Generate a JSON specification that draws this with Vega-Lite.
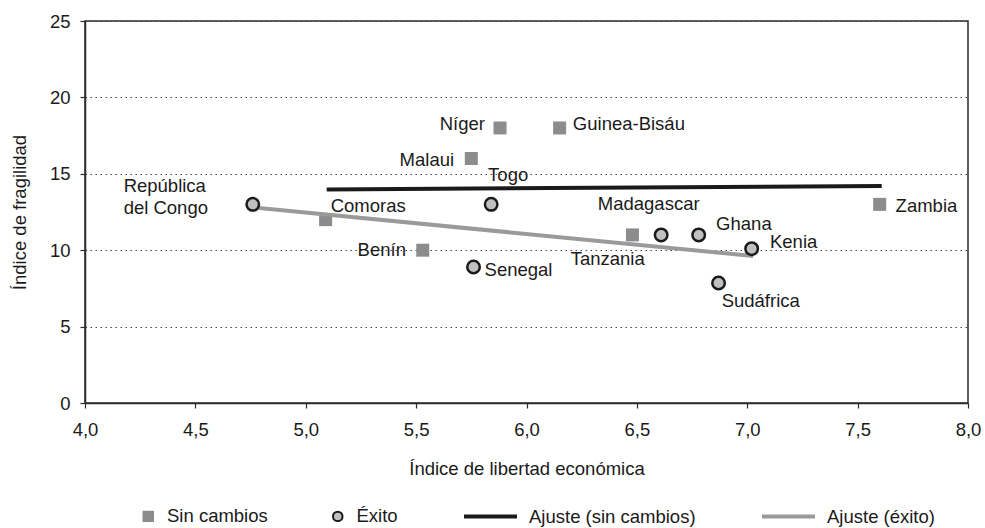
{
  "$schema": "https://vega.github.io/schema/vega-lite/v6.json",
  "width": 883,
  "height": 382,
  "autosize": {"type": "none"},
  "padding": {"left": 85, "top": 21, "right": 17, "bottom": 125},
  "background": "white",
  "config": {
    "locale": {"number": {"decimal": ",", "thousands": ".", "grouping": [3], "currency": ["", " €"]}},
    "font": "Liberation Sans",
    "view": {"stroke": "#2a2a2a", "strokeWidth": 1.5},
    "axis": {
      "labelFont": "Liberation Sans",
      "titleFont": "Liberation Sans",
      "labelFontSize": 18.5,
      "titleFontSize": 18.5,
      "titleFontWeight": "normal",
      "labelColor": "#1a1a1a",
      "titleColor": "#1a1a1a",
      "domainColor": "#2a2a2a",
      "domainWidth": 1.5,
      "tickColor": "#2a2a2a",
      "tickWidth": 1.2,
      "tickSize": 5,
      "labelFlush": false,
      "labelOverlap": false
    },
    "legend": {
      "labelFont": "Liberation Sans",
      "labelFontSize": 18.5,
      "labelColor": "#1a1a1a",
      "labelLimit": 300,
      "padding": 0
    }
  },
  "datasets": {
    "puntos": [
      {"pais": "Níger", "grupo": "Sin cambios", "libertad": 5.88, "fragilidad": 18},
      {"pais": "Guinea-Bisáu", "grupo": "Sin cambios", "libertad": 6.15, "fragilidad": 18},
      {"pais": "Malaui", "grupo": "Sin cambios", "libertad": 5.75, "fragilidad": 16},
      {"pais": "Comoras", "grupo": "Sin cambios", "libertad": 5.09, "fragilidad": 12},
      {"pais": "Benín", "grupo": "Sin cambios", "libertad": 5.53, "fragilidad": 10},
      {"pais": "Tanzania", "grupo": "Sin cambios", "libertad": 6.48, "fragilidad": 11},
      {"pais": "Zambia", "grupo": "Sin cambios", "libertad": 7.6, "fragilidad": 13},
      {"pais": "República del Congo", "grupo": "Éxito", "libertad": 4.76, "fragilidad": 13},
      {"pais": "Togo", "grupo": "Éxito", "libertad": 5.84, "fragilidad": 13},
      {"pais": "Senegal", "grupo": "Éxito", "libertad": 5.76, "fragilidad": 8.9},
      {"pais": "Madagascar", "grupo": "Éxito", "libertad": 6.61, "fragilidad": 11},
      {"pais": "Ghana", "grupo": "Éxito", "libertad": 6.78, "fragilidad": 11},
      {"pais": "Kenia", "grupo": "Éxito", "libertad": 7.02, "fragilidad": 10.1},
      {"pais": "Sudáfrica", "grupo": "Éxito", "libertad": 6.87, "fragilidad": 7.85}
    ],
    "ajustes": [
      {"ajuste": "Ajuste (sin cambios)", "libertad": 5.095, "fragilidad": 13.98},
      {"ajuste": "Ajuste (sin cambios)", "libertad": 7.609, "fragilidad": 14.2},
      {"ajuste": "Ajuste (éxito)", "libertad": 4.762, "fragilidad": 12.8},
      {"ajuste": "Ajuste (éxito)", "libertad": 7.027, "fragilidad": 9.62}
    ],
    "etiquetas": [
      {"etiqueta": "República\ndel Congo", "ancla": "izq", "libertad": 4.175, "fragilidad": 13.8},
      {"etiqueta": "Níger", "ancla": "der", "libertad": 5.812, "fragilidad": 17.86},
      {"etiqueta": "Guinea-Bisáu", "ancla": "izq", "libertad": 6.21, "fragilidad": 17.86},
      {"etiqueta": "Malaui", "ancla": "der", "libertad": 5.672, "fragilidad": 15.5},
      {"etiqueta": "Togo", "ancla": "izq", "libertad": 5.826, "fragilidad": 14.52},
      {"etiqueta": "Comoras", "ancla": "izq", "libertad": 5.113, "fragilidad": 12.53},
      {"etiqueta": "Madagascar", "ancla": "izq", "libertad": 6.323, "fragilidad": 12.66},
      {"etiqueta": "Zambia", "ancla": "izq", "libertad": 7.672, "fragilidad": 12.53},
      {"etiqueta": "Ghana", "ancla": "izq", "libertad": 6.859, "fragilidad": 11.29},
      {"etiqueta": "Kenia", "ancla": "izq", "libertad": 7.103, "fragilidad": 10.14},
      {"etiqueta": "Sudáfrica", "ancla": "izq", "libertad": 6.884, "fragilidad": 6.31},
      {"etiqueta": "Tanzania", "ancla": "izq", "libertad": 6.2, "fragilidad": 9.0},
      {"etiqueta": "Senegal", "ancla": "izq", "libertad": 5.81, "fragilidad": 8.33},
      {"etiqueta": "Benín", "ancla": "der", "libertad": 5.454, "fragilidad": 9.59}
    ]
  },
  "layer": [
    {
      "data": {"name": "puntos"},
      "transform": [{"filter": "datum.grupo === 'Sin cambios'"}],
      "mark": {"type": "point", "filled": true, "size": 169, "strokeWidth": 0, "opacity": 1},
      "encoding": {
        "x": {
          "field": "libertad", "type": "quantitative",
          "scale": {"domain": [4, 8], "nice": false, "zero": false},
          "axis": {
            "title": "Índice de libertad económica",
            "values": [4, 4.5, 5, 5.5, 6, 6.5, 7, 7.5, 8],
            "format": ".1f",
            "grid": false,
            "labelPadding": 12,
            "titleX": 441.5,
            "titleY": 71.5,
            "titleBaseline": "alphabetic",
            "titleAlign": "center"
          }
        },
        "y": {
          "field": "fragilidad", "type": "quantitative",
          "scale": {"domain": [0, 25], "nice": false},
          "axis": {
            "title": "Índice de fragilidad",
            "values": [0, 5, 10, 15, 20, 25],
            "grid": true,
            "gridColor": "#444444",
            "gridDash": [1.5, 3.5],
            "gridWidth": 1,
            "labelPadding": 10,
            "titleAngle": -90,
            "titleX": -66,
            "titleY": 191,
            "titleAlign": "center",
            "titleBaseline": "middle"
          }
        },
        "fill": {
          "field": "grupo", "type": "nominal",
          "scale": {"domain": ["Sin cambios", "Éxito"], "range": ["#8c8c8c", "#c0c0c0"]},
          "legend": {
            "title": null, "orient": "none", "legendX": 54, "legendY": 486,
            "direction": "horizontal", "symbolSize": 90, "symbolStrokeWidth": 2, "labelOffset": 9.5, "columnPadding": 60.5
          }
        },
        "stroke": {
          "field": "grupo", "type": "nominal",
          "scale": {"domain": ["Sin cambios", "Éxito"], "range": ["#8c8c8c", "#1a1a1a"]},
          "legend": {
            "title": null, "orient": "none", "legendX": 54, "legendY": 486,
            "direction": "horizontal", "symbolSize": 90, "symbolStrokeWidth": 2, "labelOffset": 9.5, "columnPadding": 60.5
          }
        },
        "shape": {
          "field": "grupo", "type": "nominal",
          "scale": {"domain": ["Sin cambios", "Éxito"], "range": ["square", "circle"]},
          "legend": {
            "title": null, "orient": "none", "legendX": 54, "legendY": 486,
            "direction": "horizontal", "symbolSize": 90, "symbolStrokeWidth": 2, "labelOffset": 9.5, "columnPadding": 60.5
          }
        }
      }
    },
    {
      "data": {"name": "ajustes"},
      "mark": {"type": "line", "strokeWidth": 4, "strokeCap": "butt"},
      "encoding": {
        "x": {"field": "libertad", "type": "quantitative"},
        "y": {"field": "fragilidad", "type": "quantitative"},
        "color": {
          "field": "ajuste", "type": "nominal",
          "scale": {"domain": ["Ajuste (sin cambios)", "Ajuste (éxito)"], "range": ["#1a1a1a", "#9a9a9a"]},
          "legend": {
            "title": null, "orient": "none", "legendX": 377, "legendY": 467,
            "direction": "horizontal", "symbolType": "stroke", "symbolSize": 2809, "symbolStrokeWidth": 4,
            "labelOffset": 10, "columnPadding": 58
          }
        }
      }
    },
    {
      "data": {"name": "puntos"},
      "transform": [{"filter": "datum.grupo === 'Éxito'"}],
      "mark": {"type": "point", "filled": true, "size": 156, "strokeWidth": 2.5, "opacity": 1},
      "encoding": {
        "x": {"field": "libertad", "type": "quantitative"},
        "y": {"field": "fragilidad", "type": "quantitative"},
        "fill": {"field": "grupo", "type": "nominal"},
        "stroke": {"field": "grupo", "type": "nominal"},
        "shape": {"field": "grupo", "type": "nominal"}
      }
    },
    {
      "data": {"name": "etiquetas"},
      "transform": [{"filter": "datum.ancla === 'izq'"}],
      "mark": {"type": "text", "align": "left", "baseline": "alphabetic", "fontSize": 18.5, "color": "#1a1a1a", "lineBreak": "\n", "lineHeight": 21.5},
      "encoding": {
        "x": {"field": "libertad", "type": "quantitative"},
        "y": {"field": "fragilidad", "type": "quantitative"},
        "text": {"field": "etiqueta"}
      }
    },
    {
      "data": {"name": "etiquetas"},
      "transform": [{"filter": "datum.ancla === 'der'"}],
      "mark": {"type": "text", "align": "right", "baseline": "alphabetic", "fontSize": 18.5, "color": "#1a1a1a"},
      "encoding": {
        "x": {"field": "libertad", "type": "quantitative"},
        "y": {"field": "fragilidad", "type": "quantitative"},
        "text": {"field": "etiqueta"}
      }
    }
  ]
}
